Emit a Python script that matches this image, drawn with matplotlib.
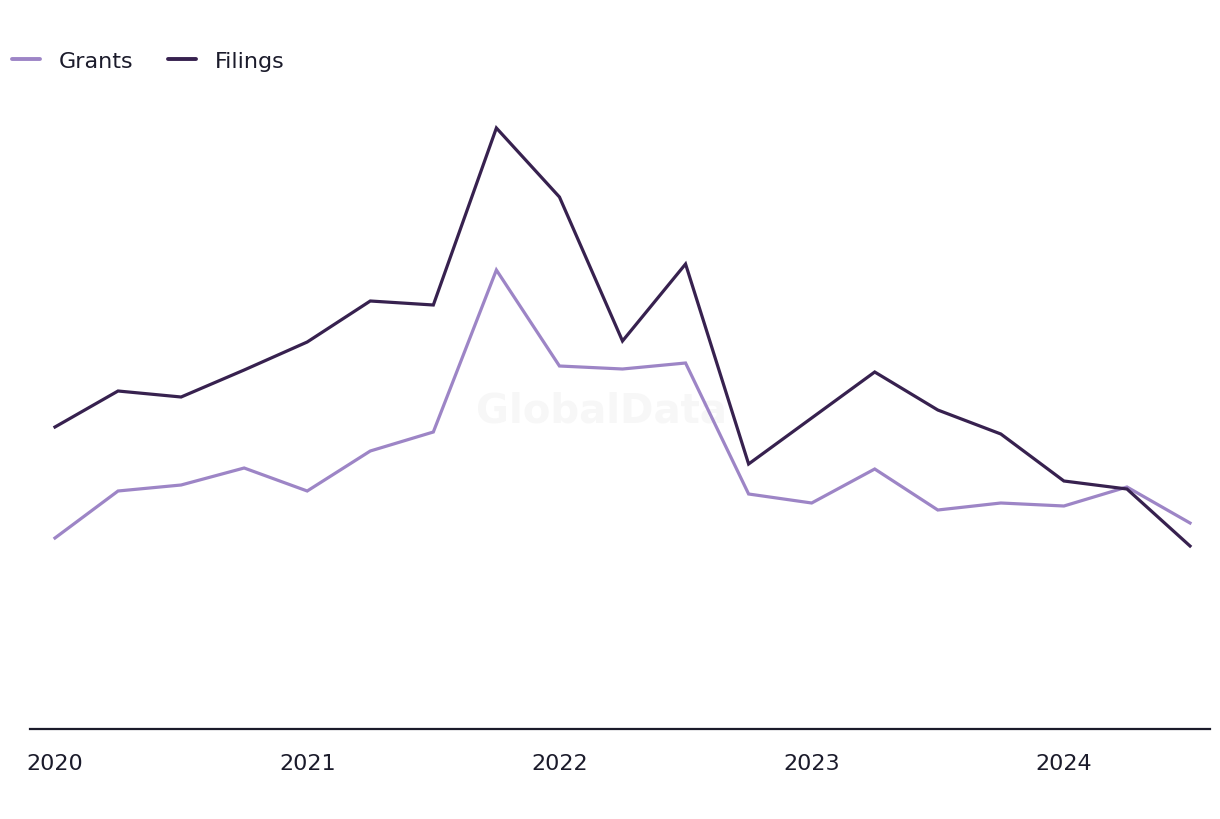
import matplotlib.pyplot as plt
import numpy as np

# Quarterly series, 2020 Q1 .. 2024 Q3 (y-axis unlabelled in source, relative units)
quarters = ["2020 Q1", "2020 Q2", "2020 Q3", "2020 Q4",
            "2021 Q1", "2021 Q2", "2021 Q3", "2021 Q4",
            "2022 Q1", "2022 Q2", "2022 Q3", "2022 Q4",
            "2023 Q1", "2023 Q2", "2023 Q3", "2023 Q4",
            "2024 Q1", "2024 Q2", "2024 Q3"]
filings = [302, 338, 332, 359, 387, 428, 424, 601, 532, 388,
           465, 265, 311, 357, 319, 295, 248, 240, 183]
grants = [191, 238, 244, 261, 238, 278, 297, 459, 363, 360,
          366, 235, 226, 260, 219, 226, 223, 242, 206]
year_labels = ["2020", "2021", "2022", "2023", "2024"]

GRANTS_COLOR = "#9d85c6"
FILINGS_COLOR = "#37214f"
TEXT_COLOR = "#1b1b2b"

fig = plt.figure(figsize=(12.2, 8.2), dpi=100)
ax = fig.add_axes([30 / 1220, 90 / 820, 1180 / 1220, 630 / 820])

x = np.arange(len(quarters))

ax.text(0.484, 0.505, "GlobalData", transform=ax.transAxes, ha="center", va="center",
        fontsize=29, fontweight="bold", color="#f7f7f7", zorder=0)

ax.plot(x, grants, color=GRANTS_COLOR, linewidth=2.3, label="Grants", zorder=2,
        solid_joinstyle="miter")
ax.plot(x, filings, color=FILINGS_COLOR, linewidth=2.3, label="Filings", zorder=3,
        solid_joinstyle="miter")

ax.set_xlim(-25 / 63.1, 18 + 20 / 63.1)
ax.set_ylim(0, 630)

year_pos = [quarters.index(f"{y} Q1") for y in year_labels]
ax.set_xticks(year_pos)
ax.set_xticklabels(year_labels)
ax.tick_params(axis="x", length=0, pad=17, labelsize=16, labelcolor=TEXT_COLOR)
ax.set_yticks([])

for side in ["top", "right", "left"]:
    ax.spines[side].set_visible(False)
ax.spines["bottom"].set_color(TEXT_COLOR)
ax.spines["bottom"].set_linewidth(1.6)

leg = ax.legend(loc="center left", bbox_to_anchor=(12 / 1220, (820 - 62) / 820),
                bbox_transform=fig.transFigure, ncol=2, frameon=False,
                fontsize=16, handlelength=1.26, handletextpad=0.86,
                columnspacing=1.55, borderaxespad=0, borderpad=0.0)
for t in leg.get_texts():
    t.set_color(TEXT_COLOR)
for h in leg.get_lines():
    h.set_linewidth(2.8)
    h.set_solid_capstyle("round")

fig.savefig("out.png", dpi=100)
